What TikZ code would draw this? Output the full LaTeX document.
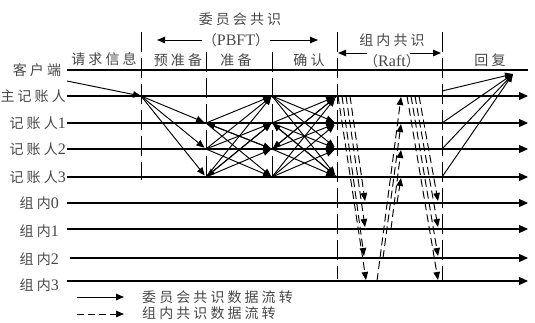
\documentclass[tikz,border=0pt]{standalone}
\usepackage{fontspec}
\setmainfont{Liberation Serif}
\newfontfamily\cjk[LetterSpace=22]{Noto Sans CJK SC}
\usetikzlibrary{arrows.meta}
\newcommand{\fsz}{\fontsize{14}{16}\selectfont}
\newcommand{\lat}{\fontsize{16}{16}\selectfont}
\begin{document}
\begin{tikzpicture}[x=1pt,y=-1pt,
  lbl/.style={text=black!72,font=\fsz,inner sep=1pt},
  hline/.style={line width=1.1pt},
  harr/.style={line width=1.1pt,-{Triangle[length=9pt,width=8pt]}},
  arr/.style={line width=0.95pt,-{Triangle[length=8pt,width=6.5pt]}},
  darr/.style={arr,dash pattern=on 8pt off 4pt},
  sepline/.style={line width=1pt,dash pattern=on 20pt off 6pt}]
\useasboundingbox (0,0) rectangle (535,322);
% grid coordinates
\foreach \n/\x in {a/141,b/206,c/272,d/337,e/442}{
  \foreach \m/\y in {0/96,1/123,2/149,3/177}{
    \coordinate (\n\m) at (\x,\y);
  }
}
% row ends
\coordinate (cL) at (67,70); \coordinate (cR) at (528,70);
\foreach \m/\y in {0/96,1/123,2/149,3/177}{
  \coordinate (L\m) at (67,\y); \coordinate (R\m) at (528,\y);
}
\foreach \m/\y/\s in {0/203/67,1/229/67,2/258/70,3/281/67}{
  \coordinate (GL\m) at (\s,\y); \coordinate (GR\m) at (528,\y);
}
% separators
\coordinate (s1t) at (141,32); \coordinate (s1b) at (141,180);
\coordinate (s2t) at (206,52); \coordinate (s2b) at (206,180);
\coordinate (s3t) at (272,52); \coordinate (s3b) at (272,180);
\coordinate (s4t) at (337,32); \coordinate (s4b) at (337,279);
\coordinate (s5t) at (442,32); \coordinate (s5b) at (442,281);
\foreach \i in {1,...,5}{ \draw[sepline] (s\i t) -- (s\i b); }
% horizontal lines
\draw[hline] (cL) -- (cR);
\foreach \m in {0,1,2,3}{ \draw[harr] (L\m) -- (R\m); \draw[harr] (GL\m) -- (GR\m); }
% row labels
\node[lbl] (client) at (37,70) {\cjk 客户端};
\node[lbl,anchor=east] (lm) at (67,96) {\cjk 主记账人};
\node[lbl,anchor=east] (l1) at (67,123) {{\cjk 记账人}{\lat 1}};
\node[lbl,anchor=east] (l2) at (67,149) {{\cjk 记账人}{\lat 2}};
\node[lbl,anchor=east] (l3) at (67,177) {{\cjk 记账人}{\lat 3}};
\node[lbl,anchor=east] (g0) at (60,203) {{\cjk 组内}{\lat 0}};
\node[lbl,anchor=east] (g1) at (60,231) {{\cjk 组内}{\lat 1}};
\node[lbl,anchor=east] (g2) at (60,259) {{\cjk 组内}{\lat 2}};
\node[lbl,anchor=east] (g3) at (60,285) {{\cjk 组内}{\lat 3}};
% header
\node[lbl] (wyh) at (240,19) {\cjk 委员会共识};
\node[lbl] (pbft) at (236,40) {{\cjk （}{\lat PBFT}{\cjk ）}};
\coordinate (pL) at (157,40); \coordinate (pR) at (318,40);
\draw[arr] (pbft) -- (pL); \draw[arr] (pbft) -- (pR);
\node[lbl] (znh) at (392,40) {\cjk 组内共识};
\node[lbl] (raft) at (392,61) {{\cjk （}{\lat Raft}{\cjk ）}};
\coordinate (rL0) at (367,53); \coordinate (rL1) at (338,53);
\coordinate (rR0) at (410,53); \coordinate (rR1) at (441,53);
\draw[arr] (rL0) -- (rL1); \draw[arr] (rR0) -- (rR1);
\node[lbl] (req) at (104,59) {\cjk 请求信息};
\node[lbl] (pp) at (178,60) {\cjk 预准备};
\node[lbl] (pr) at (236,60) {\cjk 准备};
\node[lbl] (cm) at (309,60) {\cjk 确认};
\node[lbl] (rp) at (490,60) {\cjk 回复};
% request
\coordinate (reqS) at (67,81);
\draw[arr] (reqS) -- (a0);
% pre-prepare
\foreach \j in {1,2,3}{ \draw[arr,shorten >=2pt] (a0) -- (b\j); }
% prepare
\foreach \i in {1,2,3}{
  \foreach \j in {0,1,2,3}{
    \ifnum\i=\j\else \draw[arr,shorten >=1pt] (b\i) -- (c\j); \fi
  }
}
\draw[arr,shorten >=1pt] (c2) -- (b1);
\draw[arr,shorten >=1pt] (c1) -- (b3);
% commit
\foreach \i in {0,1,2,3}{
  \foreach \j in {0,1,2,3}{
    \ifnum\i=\j\else \draw[arr,shorten >=3pt] (c\i) -- (d\j); \fi
  }
}
\draw[arr,shorten >=1pt] (d0) -- (c2);
\draw[arr,shorten >=1pt] (d3) -- (c1);
% raft group 1 (down)
\coordinate (u0) at (350,96); \coordinate (u1) at (346,96);
\coordinate (u2) at (342,96); \coordinate (u3) at (338,96);
\coordinate (f0) at (365,201); \coordinate (f1) at (365,227);
\coordinate (f2) at (364,256); \coordinate (f3) at (366,280);
\foreach \k in {0,1,2,3}{ \draw[darr] (u\k) -- (f\k); }
% raft group 2 (up)
\coordinate (w0) at (377,281); \coordinate (w1) at (383,258);
\coordinate (w2) at (391,229); \coordinate (w3) at (397,203);
\coordinate (t0) at (401,97); \coordinate (t1) at (401,124);
\coordinate (t2) at (401,150); \coordinate (t3) at (401,178);
\foreach \k in {0,1,2,3}{ \draw[darr] (w\k) -- (t\k); }
% raft group 3 (down)
\coordinate (v0) at (419,96); \coordinate (v1) at (415,96);
\coordinate (v2) at (411,96); \coordinate (v3) at (407,96);
\coordinate (h0) at (438,201); \coordinate (h1) at (438,227);
\coordinate (h2) at (438,256); \coordinate (h3) at (438,280);
\foreach \k in {0,1,2,3}{ \draw[darr] (v\k) -- (h\k); }
% reply
\coordinate (rpS) at (442,91); \coordinate (rpT) at (513,74);
\draw[arr] (rpS) -- (rpT);
\foreach \j in {1,2,3}{ \draw[arr] (e\j) -- (rpT); }
% legend
\coordinate (lg1s) at (77,297); \coordinate (lg1e) at (124,297);
\coordinate (lg2s) at (77,314); \coordinate (lg2e) at (124,314);
\draw[arr] (lg1s) -- (lg1e);
\draw[arr,dash pattern=on 7pt off 4pt] (lg2s) -- (lg2e);
\node[lbl,anchor=west] (lt1) at (141,297) {\cjk 委员会共识数据流转};
\node[lbl,anchor=west] (lt2) at (141,313.5) {\cjk 组内共识数据流转};
\end{tikzpicture}
\end{document}
